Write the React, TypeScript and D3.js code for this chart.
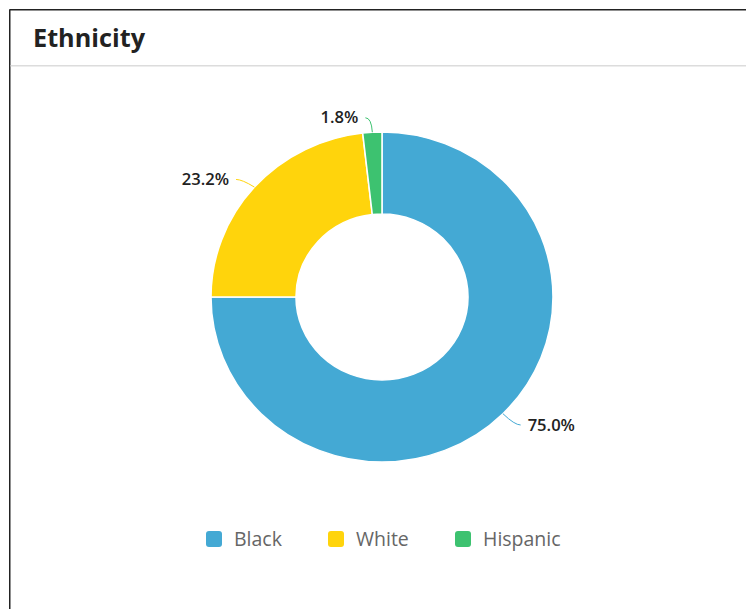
import React from "react";
import * as d3 from "d3";

const categories = ["Black", "White", "Hispanic"];
const values = [75.0, 23.2, 1.8];
const colors = ["#44a9d4", "#ffd40c", "#3dc270"];
const labels = ["75.0%", "23.2%", "1.8%"];

const W = 746;
const H = 609;
const cx = 382;
const cy = 297;
const R = 165;
const r = 83;
const sx = 171 / 165;

export default function App() {
  const pie = d3.pie<number>().sort(null).value((d) => d);
  const arcs = pie(values);
  const arc = d3.arc<d3.PieArcDatum<number>>().innerRadius(r).outerRadius(R);

  const legendX = [206, 328, 455];

  return (
    <svg
      width={W}
      height={H}
      style={{ position: "absolute", left: 0, top: 0, background: "#fff" }}
      fontFamily="'Open Sans', sans-serif"
    >
      <line x1={9.5} y1={9.75} x2={W} y2={9.75} stroke="#222" strokeWidth={1.5} />
      <line x1={9.75} y1={9.5} x2={9.75} y2={H} stroke="#222" strokeWidth={1.5} />
      <line x1={10.5} y1={65.75} x2={W} y2={65.75} stroke="#dcdcdc" strokeWidth={1.5} />
      <text x={33} y={47} fontSize={25} fontWeight={700} fill="#222" textLength={112} lengthAdjust="spacingAndGlyphs">
        Ethnicity
      </text>

      <g transform={`translate(${cx},${cy}) scale(${sx},1)`}>
        {arcs.map((a, i) => (
          <path key={categories[i]} d={arc(a) || ""} fill={colors[i]} stroke="#fff" strokeWidth={1.5} />
        ))}
      </g>

      {arcs.map((a, i) => {
        const mid = (a.startAngle + a.endAngle) / 2;
        const sn = Math.sin(mid);
        const cs = Math.cos(mid);
        const x0 = cx + R * sx * sn;
        const y0 = cy - R * cs;
        const x1 = cx + (R + 16) * sx * sn;
        const y1 = cy - (R + 16) * cs + (cs > 0.3 && cs < 0.9 ? 3 : cs > 0.9 ? 1.5 : 0);
        const right = sn >= 0;
        const x2 = x1 + (right ? 6 : -6);
        const path = `M${x0},${y0} Q${x1},${y1} ${x2},${y1}`;
        const tx = x2 + (right ? 7 : -7);
        return (
          <g key={"lbl" + i}>
            <path d={path} fill="none" stroke={colors[i]} strokeWidth={1} />
            <text
              transform={`translate(${tx},${y1}) scale(${sx},1)`}
              dy="0.35em"
              textAnchor={right ? "start" : "end"}
              fontSize={16}
              fontWeight={600}
              fill="#222"
            >
              {labels[i]}
            </text>
          </g>
        );
      })}

      {categories.map((c, i) => (
        <g key={"leg" + c} transform={`translate(${legendX[i]},531)`}>
          <rect width={16} height={16} rx={3} fill={colors[i]} />
          <text x={28} y={8.5} dy="0.35em" fontSize={19.5} fill="#666">
            {c}
          </text>
        </g>
      ))}
    </svg>
  );
}
